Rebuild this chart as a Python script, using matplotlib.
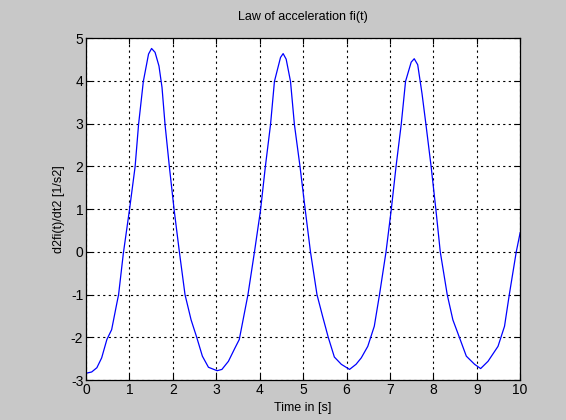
import matplotlib
matplotlib.use("Agg")
import matplotlib.pyplot as plt

# time [s] and acceleration values
t = [0.0, 0.13, 0.25, 0.36, 0.48, 0.59, 0.71, 0.75, 0.86, 1.0, 1.13, 1.21, 1.32,
     1.44, 1.51, 1.59, 1.68, 1.75, 1.82, 1.92, 2.03, 2.15, 2.28, 2.42, 2.55, 2.68,
     2.82, 3.02, 3.13, 3.28, 3.43, 3.53, 3.73, 3.88, 4.02, 4.13, 4.25, 4.34, 4.48,
     4.54, 4.61, 4.71, 4.80, 4.93, 5.05, 5.17, 5.32, 5.45, 5.58, 5.72, 5.88, 6.07,
     6.22, 6.34, 6.49, 6.64, 6.76, 6.91, 7.03, 7.14, 7.26, 7.36, 7.49, 7.56, 7.64,
     7.74, 7.83, 7.95, 8.06, 8.16, 8.32, 8.45, 8.60, 8.76, 8.95, 9.09, 9.26, 9.49,
     9.64, 9.75, 9.91, 10.0]
acc = [-2.84, -2.81, -2.71, -2.48, -2.05, -1.82, -1.2, -1.0, -0.03, 0.98, 1.99, 2.98,
       3.99, 4.63, 4.76, 4.67, 4.35, 3.85, 2.98, 1.99, 0.98, 0.0, -1.0, -1.59, -2.0,
       -2.44, -2.70, -2.78, -2.75, -2.56, -2.25, -2.05, -1.0, 0.0, 0.98, 1.99, 2.98,
       3.99, 4.55, 4.64, 4.51, 3.99, 2.98, 1.99, 0.98, 0.0, -1.0, -1.51, -2.0, -2.46,
       -2.63, -2.75, -2.63, -2.48, -2.21, -1.74, -1.0, 0.0, 0.98, 1.99, 2.98, 3.99,
       4.44, 4.52, 4.38, 3.70, 2.98, 1.99, 0.98, 0.0, -1.0, -1.59, -2.0, -2.44, -2.63,
       -2.73, -2.56, -2.21, -1.74, -1.0, 0.0, 0.45]

x_ticks = list(range(0, 11))
y_ticks = list(range(-3, 6))

plt.rcParams["font.family"] = ["Liberation Sans", "DejaVu Sans"]
plt.rcParams["axes.unicode_minus"] = False

fig = plt.figure(figsize=(5.66, 4.2), dpi=100, facecolor="#c8c8c8")
ax = fig.add_axes([0.152, 0.095, 0.767, 0.814])
ax.set_facecolor("white")

ax.plot(t, acc, color="#0000ff", linewidth=0.9)

ax.set_xlim(0, 10)
ax.set_ylim(-3, 5)
ax.set_xticks(x_ticks)
ax.set_yticks(y_ticks)
ax.grid(True, color="black", linestyle=(0, (2, 3)), linewidth=0.8)
ax.tick_params(direction="in", length=4, top=True, right=True, pad=2,
               labelsize=10, colors="black")
for spine in ax.spines.values():
    spine.set_linewidth(0.9)

ax.set_title("Law of acceleration fi(t)", fontsize=9, pad=13)
ax.set_xlabel("Time in [s]", fontsize=9, labelpad=4)
ax.set_ylabel("d2fi(t)/dt2 [1/s2]", fontsize=9, labelpad=4)

fig.savefig("out.png", dpi=100, facecolor=fig.get_facecolor())
